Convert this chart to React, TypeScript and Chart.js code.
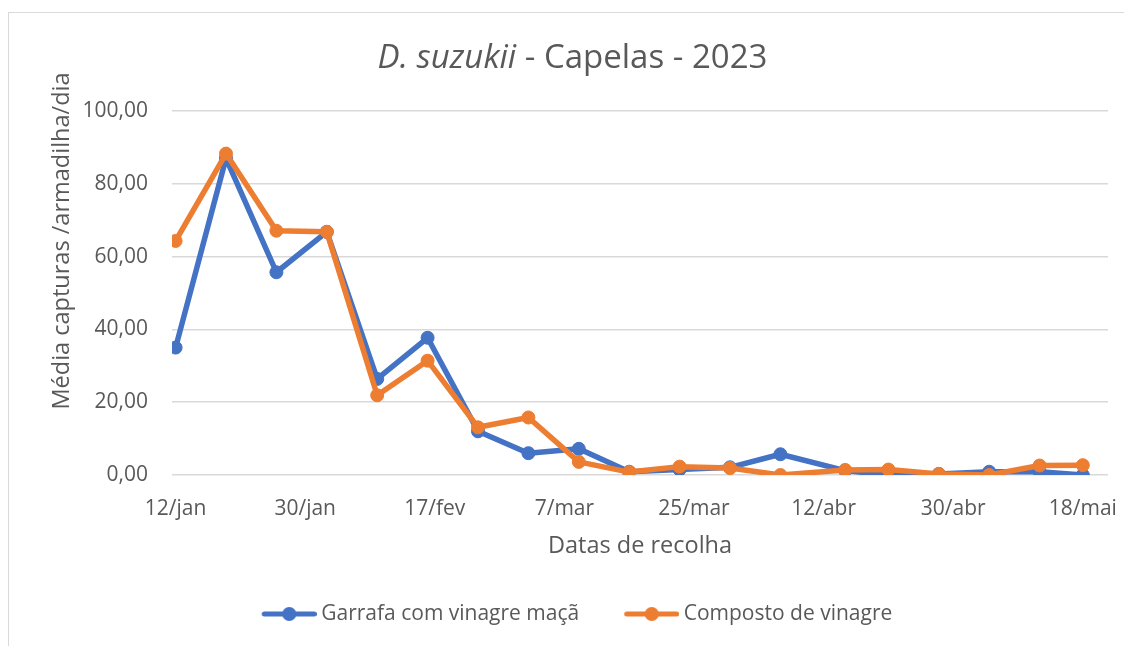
import React, { useEffect, useRef } from 'react';
import { Chart, registerables } from 'chart.js';

Chart.register(...registerables);

// ---- data ----
const collectionDates = [
  '2023-01-12', '2023-01-19', '2023-01-26', '2023-02-02', '2023-02-09',
  '2023-02-16', '2023-02-23', '2023-03-02', '2023-03-09', '2023-03-16',
  '2023-03-23', '2023-03-30', '2023-04-06', '2023-04-15', '2023-04-21',
  '2023-04-28', '2023-05-05', '2023-05-12', '2023-05-18',
];
const garrafaValues = [35.0, 87.0, 55.7, 66.8, 26.4, 37.7, 12.0, 6.0, 7.2, 0.9, 1.5, 2.1, 5.7, 1.2, 0.0, 0.3, 0.9, 0.9, 0.0];
const compostoValues = [64.3, 88.3, 67.1, 66.8, 21.9, 31.4, 13.1, 15.8, 3.6, 0.8, 2.3, 1.9, 0.0, 1.4, 1.5, 0.3, 0.0, 2.6, 2.7];

const xTickDates = ['2023-01-12', '2023-01-30', '2023-02-17', '2023-03-07', '2023-03-25', '2023-04-12', '2023-04-30', '2023-05-18'];
const xTickLabels = ['12/jan', '30/jan', '17/fev', '7/mar', '25/mar', '12/abr', '30/abr', '18/mai'];

const seriesNames = ['Garrafa com vinagre maçã', 'Composto de vinagre'];
const seriesColors = ['#4472C4', '#ED7D31'];

const titleItalic = 'D. suzukii';
const titleRest = ' - Capelas - 2023';
const yAxisTitle = 'Média capturas /armadilha/dia';
const xAxisTitle = 'Datas de recolha';

// ---- helpers ----
const FONT = "'Open Sans', sans-serif";
const TEXT = '#595959';
const GRID = '#d9d9d9';
const DAY_MS = 86400000;
const ORIGIN = Date.UTC(2023, 0, 12);
const dayOf = (s: string) => {
  const [y, m, d] = s.split('-').map(Number);
  return (Date.UTC(y, m - 1, d) - ORIGIN) / DAY_MS;
};
const fmt = (v: number) => v.toFixed(2).replace('.', ',');

function legendIcon(color: string) {
  const c = document.createElement('canvas');
  c.width = 96;
  c.height = 16;
  const g = c.getContext('2d')!;
  g.strokeStyle = color;
  g.lineWidth = 5;
  g.lineCap = 'round';
  g.beginPath();
  g.moveTo(43.5, 8);
  g.lineTo(93.5, 8);
  g.stroke();
  g.fillStyle = color;
  g.beginPath();
  g.arc(68.5, 8, 7, 0, Math.PI * 2);
  g.fill();
  return c;
}

const framePlugin = {
  id: 'frame',
  beforeDraw(chart: any) {
    const { ctx, width, height } = chart;
    ctx.save();
    ctx.fillStyle = '#ffffff';
    ctx.fillRect(0, 0, width, height);
    ctx.strokeStyle = GRID;
    ctx.lineWidth = 1;
    ctx.strokeRect(8.5, 12.5, width + 50, height + 50);
    ctx.restore();
  },
};

const textPlugin = {
  id: 'texts',
  afterDraw(chart: any) {
    const { ctx } = chart;
    ctx.save();
    ctx.fillStyle = TEXT;
    ctx.textBaseline = 'middle';
    ctx.textAlign = 'left';
    const italicFont = `italic 33px ${FONT}`;
    const normalFont = `33px ${FONT}`;
    ctx.font = italicFont;
    const w1 = ctx.measureText(titleItalic).width;
    ctx.font = normalFont;
    const w2 = ctx.measureText(titleRest).width;
    const x0 = 572.5 - (w1 + w2) / 2;
    ctx.font = italicFont;
    ctx.fillText(titleItalic, x0, 59);
    ctx.font = normalFont;
    ctx.fillText(titleRest, x0 + w1, 59);

    ctx.translate(62, 241);
    ctx.rotate(-Math.PI / 2);
    ctx.textAlign = 'center';
    ctx.font = `23.5px ${FONT}`;
    ctx.fillText(yAxisTitle, 0, 0);
    ctx.restore();
  },
};

export default function App() {
  const ref = useRef<HTMLCanvasElement | null>(null);

  useEffect(() => {
    if (!ref.current) return;
    const icons = seriesColors.map(legendIcon);
    const values = [garrafaValues, compostoValues];
    const datasets = seriesNames.map((name, i) => ({
      label: name,
      data: collectionDates.map((d, j) => ({ x: dayOf(d), y: values[i][j] })),
      borderColor: seriesColors[i],
      backgroundColor: seriesColors[i],
      borderWidth: 5.5,
      pointRadius: 6.5,
      pointBorderWidth: 1,
      pointBackgroundColor: seriesColors[i],
      pointBorderColor: seriesColors[i],
      borderJoinStyle: 'round' as const,
      borderCapStyle: 'round' as const,
      tension: 0,
      order: i === 0 ? 1 : 0,
    }));

    const chart = new Chart(ref.current, {
      type: 'line',
      data: { datasets },
      options: {
        animation: false,
        responsive: false,
        devicePixelRatio: 1,
        layout: { padding: { left: 11, right: 16, top: 111, bottom: 11.5 } },
        scales: {
          x: {
            type: 'linear',
            min: -0.5,
            max: 129.5,
            afterFit: (s: any) => {
              s.height = 118.5;
              s.paddingLeft = 0;
              s.paddingRight = 0;
            },
            afterBuildTicks: (s: any) => { s.ticks = xTickDates.map((d) => ({ value: dayOf(d) })); },
            grid: { display: false, drawTicks: false },
            border: { display: false },
            ticks: {
              autoSkip: false,
              maxRotation: 0,
              padding: 21,
              color: TEXT,
              font: { family: FONT, size: 21 },
              callback: (_v: any, i: number) => xTickLabels[i],
            },
            title: {
              display: true,
              text: xAxisTitle,
              color: TEXT,
              font: { family: FONT, size: 23.5 },
              padding: { top: 0, bottom: 33 },
            },
          },
          y: {
            min: 0,
            max: 100,
            afterFit: (s: any) => {
              s.width = 161;
              s.paddingTop = 0;
              s.paddingBottom = 0;
            },
            grid: { color: GRID, lineWidth: 1.5, drawTicks: false },
            border: { display: false },
            ticks: {
              stepSize: 20,
              padding: 24,
              color: TEXT,
              font: { family: FONT, size: 21 },
              callback: (v: any) => fmt(Number(v)),
            },
          },
        },
        plugins: {
          title: { display: false },
          tooltip: { enabled: false },
          legend: {
            position: 'bottom',
            labels: {
              usePointStyle: true,
              pointStyleWidth: 84,
              padding: 10,
              color: TEXT,
              font: { family: FONT, size: 21 },
              generateLabels: (c: any) =>
                c.data.datasets.map((ds: any, i: number) => ({
                  text: ds.label,
                  fillStyle: ds.borderColor,
                  strokeStyle: ds.borderColor,
                  lineWidth: 0,
                  pointStyle: icons[i],
                  hidden: false,
                  datasetIndex: i,
                  fontColor: TEXT,
                })),
            },
          },
        },
      },
      plugins: [framePlugin, textPlugin],
    } as any);

    return () => chart.destroy();
  }, []);

  return (
    <div style={{ position: 'absolute', left: 0, top: 0, width: 1124, height: 646 }}>
      <canvas ref={ref} width={1124} height={646} style={{ display: 'block', width: 1124, height: 646 }} />
    </div>
  );
}
